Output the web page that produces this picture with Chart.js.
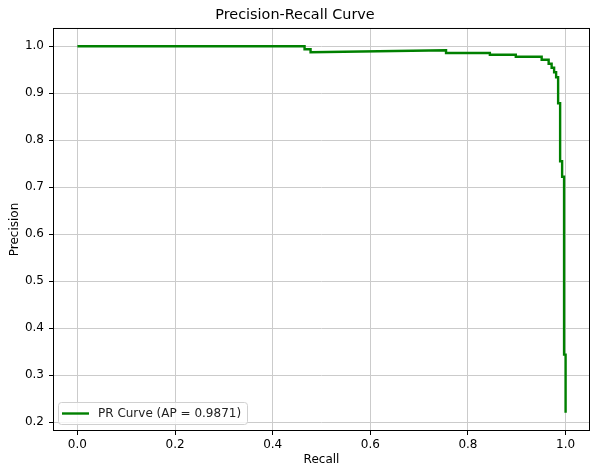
<!DOCTYPE html>
<html>
<head>
<meta charset="utf-8">
<script src="https://cdn.jsdelivr.net/npm/chart.js@4/dist/chart.umd.min.js"></script>
<style>
  body { margin: 0; background: #fff; }
  #wrap { width: 590px; height: 470px; }
</style>
</head>
<body>
<div id="wrap"><canvas id="stage" width="590" height="470"></canvas></div>
<script>
// 読み取った PR 曲線の頂点 (recall, precision)
const recall = [0.0, 0.4653, 0.4653, 0.4776, 0.4776, 0.7551, 0.7551, 0.8449, 0.8449, 0.8980, 0.8980,
  0.9510, 0.9510, 0.9653, 0.9653, 0.9714, 0.9714, 0.9765, 0.9765, 0.9806, 0.9806, 0.9847, 0.9847,
  0.9888, 0.9888, 0.9929, 0.9929, 0.9969, 0.9969, 1.0, 1.0];
const precision = [1.0, 1.0, 0.9936, 0.9936, 0.9872, 0.9915, 0.9857, 0.9857, 0.9819, 0.9819, 0.9777,
  0.9777, 0.9713, 0.9713, 0.9628, 0.9628, 0.9543, 0.9543, 0.9447, 0.9447, 0.9340, 0.9340, 0.8787,
  0.8787, 0.7553, 0.7553, 0.7223, 0.7223, 0.3436, 0.3436, 0.2198];
const xTicks = [0.0, 0.2, 0.4, 0.6, 0.8, 1.0];
const yTicks = [0.2, 0.3, 0.4, 0.5, 0.6, 0.7, 0.8, 0.9, 1.0];
const legendLabel = 'PR Curve (AP = 0.9871)';

const FONT = 'DejaVu Sans';
const gridColor = '#cbcbcb';
const lineColor = '#008000';

// 枠線と凡例を描くプラグイン
const framePlugin = {
  id: 'frame',
  afterDraw(chart) {
    const ctx = chart.ctx;
    const a = chart.chartArea;
    ctx.save();
    ctx.strokeStyle = '#000';
    ctx.lineWidth = 1;
    ctx.strokeRect(a.left + 0.5, a.top + 0.5, a.right - a.left - 1, a.bottom - a.top - 1);

    // 凡例 (左下)
    const bx = a.left + 5, by = a.bottom - 29, bw = 189, bh = 22;
    ctx.fillStyle = 'rgba(255,255,255,0.8)';
    ctx.strokeStyle = '#d0d0d0';
    ctx.beginPath();
    ctx.roundRect(bx + 0.5, by + 0.5, bw, bh, 3);
    ctx.fill();
    ctx.stroke();
    const ly = by + 11.5;
    ctx.strokeStyle = lineColor;
    ctx.lineWidth = 2.4;
    ctx.beginPath();
    ctx.moveTo(bx + 4, ly);
    ctx.lineTo(bx + 31, ly);
    ctx.stroke();
    ctx.fillStyle = '#222';
    ctx.font = '12px "' + FONT + '"';
    ctx.textBaseline = 'middle';
    ctx.textAlign = 'left';
    ctx.fillText(legendLabel, bx + 40, ly + 0.5);
    ctx.restore();
  }
};

new Chart(document.getElementById('stage'), {
  type: 'scatter',
  data: {
    datasets: [{
      label: legendLabel,
      data: recall.map((r, i) => ({x: r, y: precision[i]})),
      showLine: true,
      borderColor: lineColor,
      borderWidth: 2.4,
      pointRadius: 0,
      tension: 0
    }]
  },
  options: {
    responsive: false,
    animation: false,
    layout: { padding: 0 },
    plugins: {
      legend: { display: false },
      tooltip: { enabled: false },
      title: {
        display: true,
        text: 'Precision-Recall Curve',
        color: '#000',
        font: { family: FONT, size: 14.4, weight: 'normal' },
        padding: { top: 6.5, bottom: 4.2 }
      }
    },
    scales: {
      x: {
        type: 'linear',
        min: -0.05,
        max: 1.05,
        afterBuildTicks: s => { s.ticks = xTicks.map(v => ({value: v})); },
        afterFit: s => { s.height = 39; },
        grid: { color: gridColor, tickColor: '#000', tickLength: 4, drawTicks: true },
        border: { display: false },
        ticks: {
          color: '#000',
          padding: 3,
          maxRotation: 0,
          font: { family: FONT, size: 12 },
          callback: v => v.toFixed(1)
        },
        title: {
          display: true,
          text: 'Recall',
          color: '#000',
          font: { family: FONT, size: 12 },
          padding: { top: 0, bottom: 3 }
        }
      },
      y: {
        type: 'linear',
        min: 0.181,
        max: 1.039,
        afterBuildTicks: s => { s.ticks = yTicks.map(v => ({value: v})); },
        afterFit: s => { s.width = 53; },
        grid: { color: gridColor, tickColor: '#000', tickLength: 4, drawTicks: true },
        border: { display: false },
        ticks: {
          color: '#000',
          padding: 5,
          font: { family: FONT, size: 12 },
          callback: v => v.toFixed(1)
        },
        title: {
          display: true,
          text: 'Precision',
          color: '#000',
          font: { family: FONT, size: 12 },
          padding: { top: 8, bottom: 0 }
        }
      }
    }
  },
  plugins: [framePlugin]
});
</script>
</body>
</html>
